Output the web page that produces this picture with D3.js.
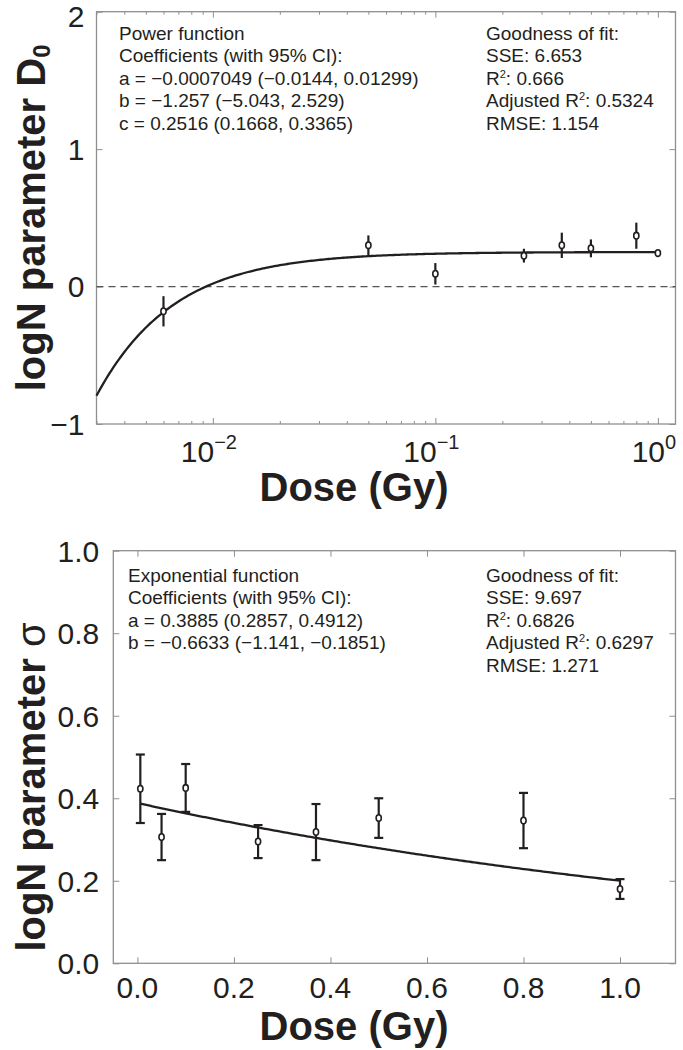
<!DOCTYPE html>
<html><head><meta charset="utf-8">
<script src="https://cdn.jsdelivr.net/npm/d3@7"></script>
<style>
body{margin:0;background:#fff}
svg{display:block}
text{font-family:"Liberation Sans",Arial,Helvetica,sans-serif;fill:#231f20}
</style>
</head><body>
<svg id="chart" width="683" height="1050"></svg>
<script>
// ---- data ----
const doses = [0.006, 0.05, 0.1, 0.25, 0.37, 0.5, 0.8, 1.0];
const d0Values = [-0.18, 0.30, 0.093, 0.225, 0.30, 0.278, 0.37, 0.244];
const d0Errors = [0.11, 0.072, 0.078, 0.05, 0.092, 0.065, 0.095, 0.018];
const sigmaValues = [0.423, 0.306, 0.425, 0.295, 0.318, 0.352, 0.346, 0.18];
const sigmaErrors = [0.083, 0.056, 0.058, 0.040, 0.068, 0.048, 0.067, 0.024];
const powerCoefs = [-0.0007049, -1.257, 0.2516];   // a, b, c : a*x^b + c
const expCoefs = [0.3885, -0.6633];                // a, b : a*exp(b*x)
const topYTicks = [-1, 0, 1, 2];
const topXMajor = [0.01, 0.1, 1];
const topXLabels = ["−2", "−1", "0"];
const bottomXTicks = [0, 0.2, 0.4, 0.6, 0.8, 1.0];
const bottomYTicks = [0, 0.2, 0.4, 0.6, 0.8, 1.0];
const topTextLeft = ["Power function", "Coefficients (with 95% CI):",
  "a = −0.0007049 (−0.0144, 0.01299)", "b = −1.257 (−5.043, 2.529)", "c = 0.2516 (0.1668, 0.3365)"];
const topTextRight = ["Goodness of fit:", "SSE: 6.653", "R^2: 0.666", "Adjusted R^2: 0.5324", "RMSE: 1.154"];
const botTextLeft = ["Exponential function", "Coefficients (with 95% CI):",
  "a = 0.3885 (0.2857, 0.4912)", "b = −0.6633 (−1.141, −0.1851)"];
const botTextRight = ["Goodness of fit:", "SSE: 9.697", "R^2: 0.6826", "Adjusted R^2: 0.6297", "RMSE: 1.271"];

// ---- layout ----
const svg = d3.select("#chart");
const frameColor = "#8f8f8f", ink = "#231f20";
const P1 = {l: 96.5, r: 675.5, t: 11.7, b: 424};
const P2 = {l: 113.3, r: 675.5, t: 550.7, b: 963.3};

const x1 = d3.scaleLog().domain([0.003, 1.2]).range([P1.l, P1.r]);
const y1 = d3.scaleLinear().domain([-1, 2]).range([P1.b, P1.t]);
const x2 = d3.scaleLinear().domain([-0.05, 1.115]).range([P2.l, P2.r]);
const y2 = d3.scaleLinear().domain([0, 1]).range([P2.b, P2.t]);

function frame(P){
  svg.append("rect").attr("x",P.l).attr("y",P.t).attr("width",P.r-P.l).attr("height",P.b-P.t)
    .attr("fill","none").attr("stroke",frameColor).attr("stroke-width",1.3);
}
function styleAxis(g){
  g.select(".domain").remove();
  g.selectAll(".tick line").attr("stroke",frameColor).attr("stroke-width",1);
  g.selectAll(".tick text").remove();
}

// ===== TOP PANEL =====
const allLogTicks = x1.ticks().filter(v => v >= 0.003 && v <= 1.2);
const isMajor = v => topXMajor.some(m => Math.abs(m - v) < 1e-9);
[["bottom", P1.b], ["top", P1.t]].forEach(([side, yy]) => {
  [[allLogTicks.filter(v => !isMajor(v)), 3], [topXMajor, 6]].forEach(([vals, sz]) => {
    const ax = (side === "bottom" ? d3.axisBottom(x1) : d3.axisTop(x1)).tickValues(vals).tickSize(-sz);
    svg.append("g").attr("transform", `translate(0,${yy})`).call(ax).call(styleAxis);
  });
});
[["left", P1.l], ["right", P1.r]].forEach(([side, xx]) => {
  const ax = (side === "left" ? d3.axisLeft(y1) : d3.axisRight(y1)).tickValues(topYTicks).tickSize(-6);
  svg.append("g").attr("transform", `translate(${xx},0)`).call(ax).call(styleAxis);
});
frame(P1);

topYTicks.forEach(v => {
  svg.append("text").attr("x", P1.l - 12).attr("y", y1(v) + (v === 2 ? 4 : 0)).attr("dy","0.36em")
    .attr("text-anchor","end").attr("font-size",30).text(v < 0 ? "−" + Math.abs(v) : v);
});
topXMajor.forEach((v, i) => {
  const t = svg.append("text").attr("x", x1(v) - 4).attr("y", P1.b + 38).attr("text-anchor","middle").attr("font-size",30);
  t.append("tspan").text("10");
  t.append("tspan").attr("font-size",20).attr("dy",-13).text(topXLabels[i]);
});

svg.append("line").attr("x1",P1.l).attr("x2",P1.r).attr("y1",y1(0)).attr("y2",y1(0))
  .attr("stroke","#555").attr("stroke-width",1.2).attr("stroke-dasharray","7,5");

const fit1 = d3.range(0, 301).map(i => {
  const xv = Math.pow(10, Math.log10(0.003) + i / 300 * (0 - Math.log10(0.003)));
  return [xv, powerCoefs[0] * Math.pow(xv, powerCoefs[1]) + powerCoefs[2]];
});
svg.append("path").datum(fit1).attr("fill","none").attr("stroke",ink).attr("stroke-width",2.3)
  .attr("d", d3.line().x(d => x1(d[0])).y(d => y1(d[1])));

doses.forEach((d, i) => {
  svg.append("line").attr("x1",x1(d)).attr("x2",x1(d))
    .attr("y1",y1(d0Values[i]-d0Errors[i])).attr("y2",y1(d0Values[i]+d0Errors[i]))
    .attr("stroke",ink).attr("stroke-width",2.2);
  svg.append("ellipse").attr("cx",x1(d)).attr("cy",y1(d0Values[i])).attr("rx",2.6).attr("ry",3.3)
    .attr("fill","#fff").attr("stroke",ink).attr("stroke-width",1.6);
});

svg.append("text").attr("x",354).attr("y",P1.b + 77).attr("text-anchor","middle")
  .attr("font-size",40).attr("font-weight","bold").text("Dose (Gy)");
{
  const t = svg.append("text").attr("transform",`translate(45,${(P1.t+P1.b)/2}) rotate(-90)`)
    .attr("text-anchor","middle").attr("font-size",40).attr("font-weight","bold");
  t.append("tspan").text("logN parameter D");
  t.append("tspan").attr("font-size",24).attr("dy",5).text("0");
}

function textBlock(lines, x, y0, lh){
  lines.forEach((s, i) => {
    const t = svg.append("text").attr("x", x).attr("y", y0 + i * lh).attr("font-size", 19);
    const parts = s.split("^2");
    t.append("tspan").text(parts[0]);
    if (parts.length > 1) {
      t.append("tspan").attr("font-size",11).attr("dy",-7).text("2");
      t.append("tspan").attr("dy",7).text(parts[1]);
    }
  });
}
textBlock(topTextLeft, 119, 40, 22.4);
textBlock(topTextRight, 486, 40, 22.4);

// ===== BOTTOM PANEL =====
[["bottom", P2.b], ["top", P2.t]].forEach(([side, yy]) => {
  const ax = (side === "bottom" ? d3.axisBottom(x2) : d3.axisTop(x2)).tickValues(bottomXTicks).tickSize(-6);
  svg.append("g").attr("transform", `translate(0,${yy})`).call(ax).call(styleAxis);
});
[["left", P2.l], ["right", P2.r]].forEach(([side, xx]) => {
  const ax = (side === "left" ? d3.axisLeft(y2) : d3.axisRight(y2)).tickValues(bottomYTicks).tickSize(-6);
  svg.append("g").attr("transform", `translate(${xx},0)`).call(ax).call(styleAxis);
});
frame(P2);

bottomYTicks.forEach(v => {
  svg.append("text").attr("x", P2.l - 14).attr("y", y2(v)).attr("dy","0.36em")
    .attr("text-anchor","end").attr("font-size",30).text(d3.format(".1f")(v));
});
bottomXTicks.forEach(v => {
  svg.append("text").attr("x", x2(v)).attr("y", P2.b + 35).attr("text-anchor","middle")
    .attr("font-size",30).text(d3.format(".1f")(v));
});

const fit2 = d3.range(0, 201).map(i => {
  const xv = doses[0] + i / 200 * (doses[doses.length-1] - doses[0]);
  return [xv, expCoefs[0] * Math.exp(expCoefs[1] * xv)];
});
svg.append("path").datum(fit2).attr("fill","none").attr("stroke",ink).attr("stroke-width",2.3)
  .attr("d", d3.line().x(d => x2(d[0])).y(d => y2(d[1])));

doses.forEach((d, i) => {
  const lo = y2(sigmaValues[i]-sigmaErrors[i]), hi = y2(sigmaValues[i]+sigmaErrors[i]), cx = x2(d);
  const g = svg.append("g").attr("stroke",ink).attr("stroke-width",2.2);
  g.append("line").attr("x1",cx).attr("x2",cx).attr("y1",lo).attr("y2",hi);
  g.append("line").attr("x1",cx-4.5).attr("x2",cx+4.5).attr("y1",lo).attr("y2",lo);
  g.append("line").attr("x1",cx-4.5).attr("x2",cx+4.5).attr("y1",hi).attr("y2",hi);
  svg.append("ellipse").attr("cx",cx).attr("cy",y2(sigmaValues[i])).attr("rx",2.6).attr("ry",3.3)
    .attr("fill","#fff").attr("stroke",ink).attr("stroke-width",1.6);
});

svg.append("text").attr("x",354).attr("y",P2.b + 77).attr("text-anchor","middle")
  .attr("font-size",40).attr("font-weight","bold").text("Dose (Gy)");
{
  const t = svg.append("text").attr("transform",`translate(45,${(P2.t+P2.b)/2 + 30}) rotate(-90)`)
    .attr("text-anchor","middle").attr("font-size",40).attr("font-weight","bold");
  t.append("tspan").text("logN parameter ");
  t.append("tspan").attr("font-weight","normal").text("σ");
}

textBlock(botTextLeft, 128, 582, 22.4);
textBlock(botTextRight, 486, 582, 22.4);
</script>
</body></html>
